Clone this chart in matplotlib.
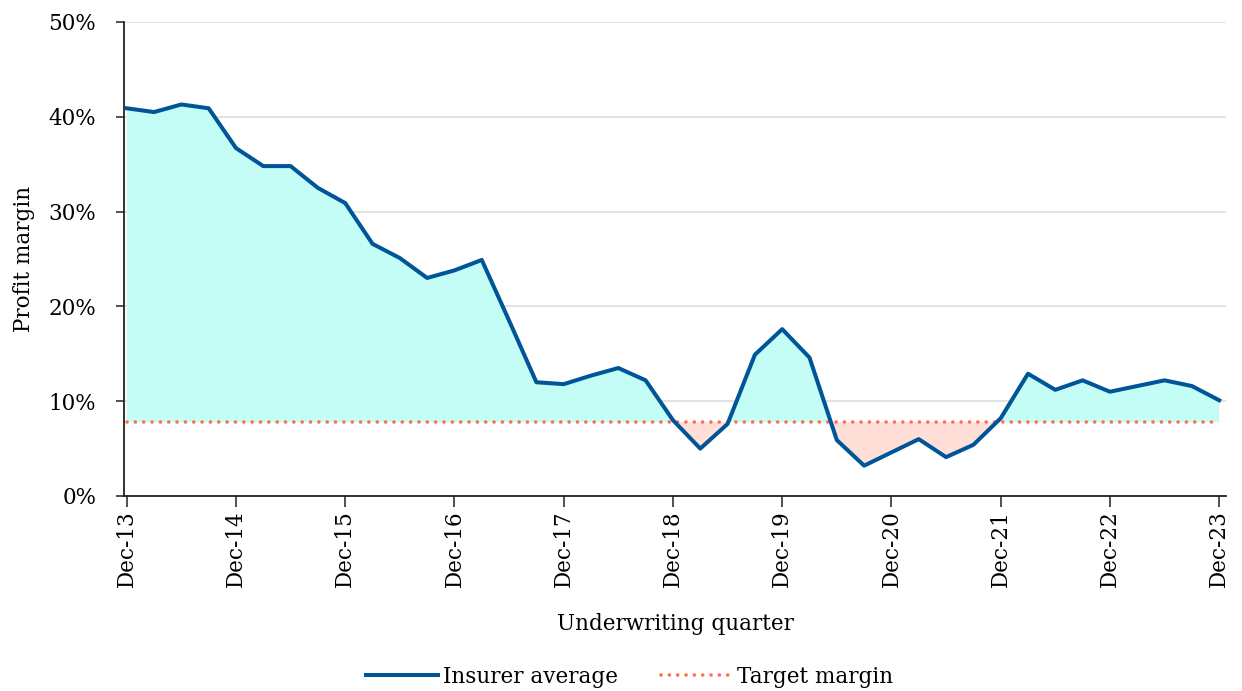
import matplotlib
matplotlib.use("Agg")
import matplotlib.pyplot as plt
import numpy as np
from matplotlib.ticker import FuncFormatter, MultipleLocator

# Data: quarterly profit margin (%), Dec-13 .. Dec-23
insurer_avg = [40.9, 40.5, 41.3, 40.9, 36.7, 34.8, 34.8, 32.5, 30.9, 26.6,
               25.1, 23.0, 23.8, 24.9, 18.5, 12.0, 11.8, 12.7, 13.5, 12.2,
               8.0, 5.0, 7.6, 14.9, 17.6, 14.6, 5.9, 3.2, 4.6, 6.0,
               4.1, 5.4, 8.2, 12.9, 11.2, 12.2, 11.0, 11.6, 12.2, 11.6, 10.1]
target_margin = 7.8
year_labels = ["Dec-13", "Dec-14", "Dec-15", "Dec-16", "Dec-17", "Dec-18",
               "Dec-19", "Dec-20", "Dec-21", "Dec-22", "Dec-23"]

plt.rcParams['font.family'] = ['DejaVu Serif']

fig = plt.figure(figsize=(12.42, 6.91), dpi=100)
ax = fig.add_axes([124/1242, 1 - 496/691, (1226-124)/1242, (496-22)/691])

x = np.arange(len(insurer_avg))
y = np.array(insurer_avg)
t = np.full_like(y, target_margin)

ax.fill_between(x, y, t, where=y >= t, interpolate=True, color='#C4FDF5', lw=0, zorder=1)
ax.fill_between(x, y, t, where=y <= t, interpolate=True, color='#FFDFD7', lw=0, zorder=1)
ax.plot(x, t, color='#FF6E4F', lw=2.6, ls=(0, (0.01, 2.3)), dash_capstyle='round',
        zorder=3, label='Target margin')
ax.plot(x, y, color='#005598', lw=2.9, zorder=4, label='Insurer average')

ax.set_ylim(0, 50)
ax.set_xlim(-0.1, 40.25)
ax.yaxis.set_major_locator(MultipleLocator(10))
ax.yaxis.set_major_formatter(FuncFormatter(lambda v, p: f"{v:.0f}%"))
ax.set_xticks(np.arange(0, 41, 4))
ax.set_xticklabels(year_labels, rotation=90, fontsize=15.5)
ax.tick_params(axis='y', labelsize=15.5, length=6, width=1.2, color='#333333', pad=14)
ax.tick_params(axis='x', length=8, width=1.2, color='#333333', pad=2)
ax.grid(axis='y', color='#DDDDDD', lw=1.2, zorder=0)
ax.set_axisbelow(True)
for s in ['top', 'right']:
    ax.spines[s].set_visible(False)
for s in ['left', 'bottom']:
    ax.spines[s].set_color('#222222')
    ax.spines[s].set_linewidth(1.3)

ax.set_ylabel('Profit margin', fontsize=15.5, labelpad=10)
ax.set_xlabel('Underwriting quarter', fontsize=15.5, labelpad=19)

h, l = ax.get_legend_handles_labels()
fig.legend(h[::-1], l[::-1], loc='center', bbox_to_anchor=(630/1242, 1 - 677/691), ncol=2,
           frameon=False, fontsize=15.5, handlelength=3.3, columnspacing=2.0, handletextpad=0.25)

fig.savefig('out.png', dpi=100)
